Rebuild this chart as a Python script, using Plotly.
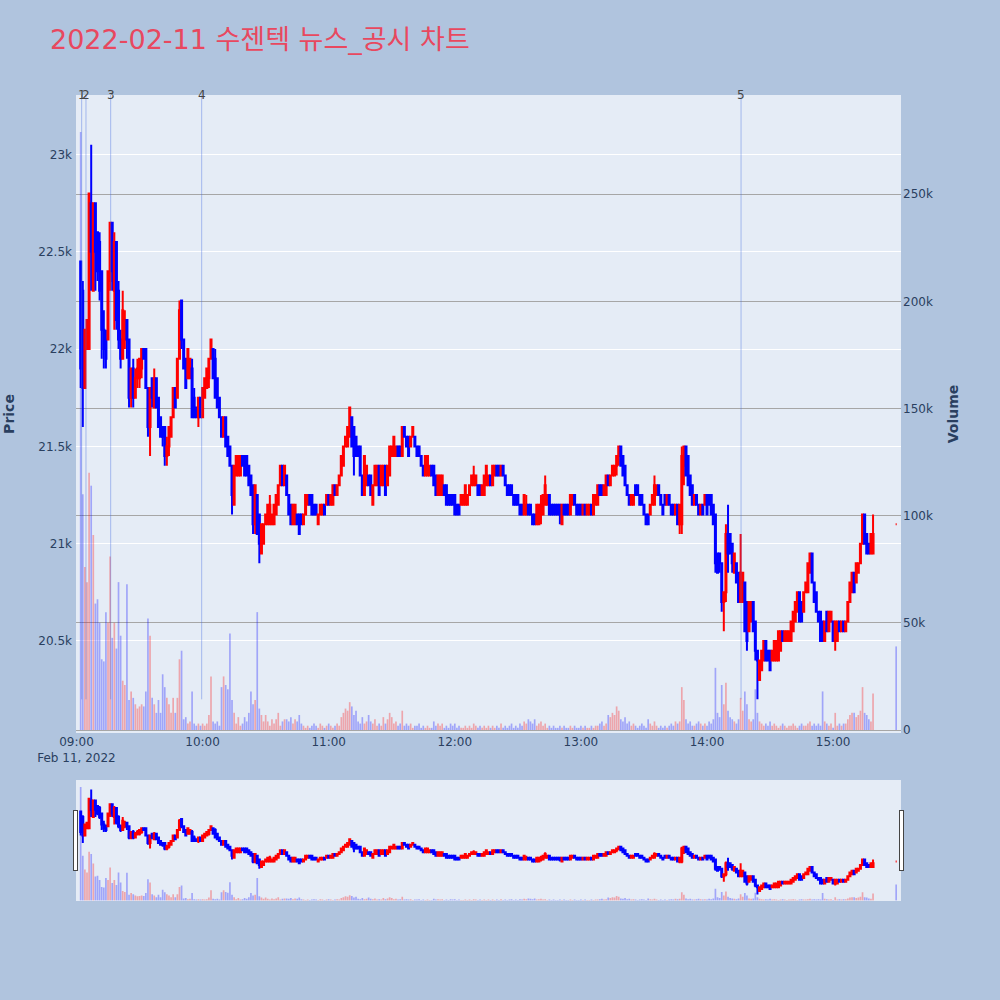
import pandas as pd
import plotly.graph_objects as go

title_text = "2022-02-11 수젠텍 뉴스_공시 차트"
session_start = "2022-02-11 09:02"
session_end = "2022-02-11 15:19"
closing_auction = "2022-02-11 15:30"

opens = [
    22450,22300,21800,22000,22000,22750,22300,22750,22600,22550,
    22400,22100,22050,22050,22350,22650,22300,22550,22300,22050,
    21950,22050,22150,22050,21750,21900,21750,21850,21850,21900,
    22000,22000,21800,21600,21850,21700,21850,21750,21650,21600,
    21600,21450,21500,21550,21650,21800,21750,21950,
    22250,22050,21950,21850,21850,21900,21750,21700,21650,21750,
    21650,21750,21800,21850,21950,22000,21950,21850,21750,21650,
    21550,21650,21550,21500,21400,21200,21350,21350,21350,21450,
    21450,21450,21400,21350,21300,21100,21250,21150,20950,21000,
    21100,21100,21100,21100,21100,21150,21200,21300,21400,21300,
    21350,21250,21200,21100,21100,21150,21150,21150,21100,21150,
    21200,21250,21250,21200,21200,21100,21150,21150,21200,21200,
    21250,21200,21200,21300,21250,21300,21350,21400,21500,21500,
    21550,21650,21600,21550,21500,21500,21350,21250,21300,21350,
    21350,21200,21300,21300,21400,21300,21300,21400,
    21300,21350,21450,21450,21450,21500,21500,21450,21600,21550,
    21550,21500,21550,21550,21500,21500,21450,21400,21350,21350,
    21350,21400,21400,21350,21250,21250,21250,21300,21300,21250,
    21250,21250,21250,21200,21200,21200,21200,21200,21200,21250,
    21300,21300,21300,21300,21300,21250,21250,21300,21300,21350,
    21300,21350,21400,21400,21350,21400,21350,21300,21300,21300,
    21250,21250,21250,21200,21200,21150,21150,21200,21200,21150,
    21150,21100,21100,21150,21150,21200,21200,21250,21200,21200,
    21200,21200,21200,21100,21200,21200,21200,21150,21200,21250,
    21200,21200,21200,21150,21200,21150,21150,21200,21150,21200,
    21200,21300,21300,21250,21250,21350,21300,21350,21350,21400,
    21450,21500,21450,21400,21300,21250,21200,21200,21300,21300,
    21250,21250,21200,21150,21150,21150,21200,21200,21250,21300,
    21250,21200,21250,21200,21250,21200,21200,21150,21200,21100,
    21100,21400,21500,21450,21350,21300,21200,21250,21200,
    21150,21200,21200,21250,21250,21250,21200,21150,20950,20950,
    20900,20700,20750,21050,21050,21000,20850,20900,20850,20700,
    20700,20800,20700,20550,20600,20700,20600,20450,20300,20350,
    20400,20500,20450,20450,20400,20400,20400,20400,20450,20550,
    20500,20500,20500,20500,20550,20600,20650,20750,20700,20650,
    20750,20750,20850,20950,20800,20750,20650,20650,20600,20500,
    20650,20550,20600,20600,20500,20500,20600,20550,20600,20550,
    20600,20700,20750,20850,20800,20850,20900,21000,21150,21050,
    21000,20950,20950,
    21100,
]

highs = [
    22450,22350,22100,22150,22800,23050,22750,22750,22600,22600,
    22400,22200,22100,22400,22650,22650,22600,22550,22350,22100,
    22300,22200,22150,22050,21900,21950,21900,21950,21950,22000,
    22000,22000,21800,21800,21850,21900,21850,21750,21650,21600,
    21600,21550,21600,21650,21800,21800,21950,22250,
    22250,22050,21950,22000,21950,21950,21800,21700,21750,21750,
    21800,21850,21900,21950,22050,22000,22000,21850,21750,21650,
    21650,21650,21550,21500,21400,21400,21450,21450,21450,21450,
    21450,21450,21400,21350,21300,21300,21250,21150,21100,21100,
    21150,21200,21250,21150,21200,21250,21300,21400,21400,21400,
    21350,21250,21200,21200,21200,21150,21150,21150,21150,21250,
    21250,21250,21250,21200,21200,21150,21200,21200,21200,21250,
    21250,21250,21300,21300,21300,21350,21450,21500,21550,21600,
    21700,21650,21600,21550,21500,21500,21350,21450,21400,21350,
    21350,21300,21400,21400,21400,21400,21400,21400,
    21400,21500,21500,21550,21500,21500,21500,21600,21600,21550,
    21550,21550,21600,21550,21500,21500,21450,21400,21450,21450,
    21400,21400,21400,21350,21350,21350,21350,21300,21300,21250,
    21250,21250,21250,21200,21200,21250,21250,21300,21250,21300,
    21350,21400,21350,21300,21300,21300,21350,21400,21350,21350,
    21400,21400,21400,21400,21400,21400,21350,21300,21300,21300,
    21250,21250,21250,21200,21200,21250,21250,21200,21200,21150,
    21150,21200,21200,21250,21250,21350,21250,21250,21200,21200,
    21200,21200,21200,21200,21200,21200,21200,21250,21250,21250,
    21200,21200,21200,21200,21200,21200,21200,21200,21250,21250,
    21300,21300,21300,21300,21350,21350,21350,21400,21400,21450,
    21500,21500,21450,21400,21300,21250,21250,21250,21300,21300,
    21250,21250,21200,21150,21150,21200,21250,21350,21300,21300,
    21250,21200,21250,21250,21250,21200,21200,21200,21200,21200,
    21500,21500,21500,21450,21350,21300,21250,21250,21200,
    21200,21200,21250,21250,21250,21250,21200,21150,20950,20950,
    20900,20750,21100,21200,21050,21000,20950,20900,20850,21050,
    20850,20800,20700,20700,20700,20700,20600,20450,20400,20450,
    20500,20500,20450,20450,20450,20500,20500,20550,20550,20550,
    20550,20550,20550,20600,20650,20700,20750,20750,20700,20750,
    20800,20900,20950,20950,20800,20750,20650,20650,20600,20600,
    20650,20650,20650,20600,20600,20600,20600,20600,20600,20600,
    20700,20800,20850,20850,20900,20900,21000,21150,21150,21050,
    21000,21050,21150,
    21100,
]

lows = [
    21800,21600,21800,22000,22000,22300,22300,22300,22350,22250,
    21950,21900,21900,22050,22300,22300,22100,22100,22000,21900,
    21950,22000,21950,21700,21700,21700,21750,21800,21800,21850,
    21950,21800,21550,21450,21700,21700,21700,21600,21550,21500,
    21400,21400,21450,21550,21650,21700,21750,21950,
    22000,21900,21800,21850,21850,21650,21650,21650,21600,21650,
    21650,21750,21800,21800,21950,21850,21750,21700,21650,21550,
    21550,21500,21450,21400,21150,21200,21350,21350,21350,21400,
    21350,21350,21300,21250,21050,21050,21050,20900,20950,21000,
    21100,21100,21100,21100,21100,21150,21200,21300,21300,21300,
    21250,21150,21100,21100,21100,21100,21050,21100,21100,21150,
    21200,21200,21150,21150,21150,21100,21150,21150,21150,21200,
    21200,21200,21200,21250,21250,21300,21350,21400,21500,21500,
    21550,21500,21350,21450,21450,21350,21250,21250,21300,21300,
    21250,21200,21300,21300,21250,21300,21300,21250,
    21300,21350,21450,21450,21450,21450,21450,21450,21550,21500,
    21450,21500,21550,21500,21450,21450,21400,21350,21350,21350,
    21350,21350,21300,21250,21250,21250,21250,21250,21200,21200,
    21200,21200,21150,21150,21150,21200,21200,21200,21200,21250,
    21300,21300,21300,21250,21250,21250,21250,21300,21300,21300,
    21300,21350,21350,21350,21350,21350,21300,21250,21250,21250,
    21200,21200,21200,21150,21150,21150,21150,21150,21150,21100,
    21100,21100,21100,21100,21150,21200,21200,21150,21150,21150,
    21150,21150,21100,21100,21150,21150,21150,21150,21200,21200,
    21150,21150,21150,21150,21150,21150,21150,21150,21150,21200,
    21200,21250,21250,21250,21250,21300,21300,21350,21350,21350,
    21400,21400,21350,21300,21250,21200,21200,21200,21250,21250,
    21200,21200,21150,21100,21100,21150,21200,21200,21250,21250,
    21200,21150,21200,21200,21200,21150,21150,21150,21100,21050,
    21050,21300,21350,21300,21250,21200,21200,21200,21150,
    21150,21150,21200,21150,21200,21150,21100,20850,20850,20850,
    20650,20550,20700,20850,20950,20850,20850,20800,20700,20700,
    20700,20550,20450,20550,20600,20550,20400,20200,20300,20350,
    20400,20400,20400,20350,20400,20400,20400,20400,20450,20500,
    20500,20500,20500,20500,20550,20600,20650,20600,20600,20650,
    20750,20750,20850,20800,20700,20650,20600,20500,20500,20500,
    20550,20550,20600,20500,20450,20500,20550,20550,20550,20550,
    20600,20700,20750,20750,20800,20850,20900,21000,21000,20950,
    20950,20950,20950,
    21100,
]

closes = [
    21900,21800,22100,22150,22800,22500,22750,22500,22400,22300,
    22100,22000,21950,22400,22650,22400,22550,22150,22050,21950,
    22200,22150,22050,21750,21900,21750,21850,21900,21950,22000,
    21950,21800,21600,21800,21750,21850,21700,21600,21550,21550,
    21450,21500,21600,21650,21800,21700,21950,22200,
    22050,21900,21800,22000,21950,21650,21650,21650,21750,21650,
    21800,21850,21900,21950,22050,21850,21750,21700,21650,21550,
    21650,21500,21450,21400,21250,21400,21450,21450,21450,21400,
    21350,21350,21300,21250,21100,21300,21050,21000,21100,21100,
    21150,21200,21200,21150,21200,21250,21300,21400,21300,21400,
    21250,21150,21100,21200,21200,21100,21050,21100,21150,21250,
    21250,21200,21150,21150,21150,21150,21200,21200,21150,21250,
    21200,21250,21300,21250,21300,21350,21450,21500,21550,21600,
    21700,21500,21450,21450,21450,21350,21250,21450,21400,21300,
    21250,21300,21400,21400,21250,21400,21400,21250,
    21400,21500,21500,21550,21500,21450,21450,21600,21550,21500,
    21450,21550,21600,21500,21450,21450,21400,21350,21450,21450,
    21400,21350,21300,21250,21350,21350,21350,21250,21200,21200,
    21200,21200,21150,21150,21150,21250,21250,21300,21250,21300,
    21350,21350,21350,21250,21250,21300,21350,21400,21350,21300,
    21400,21400,21350,21350,21400,21350,21300,21250,21250,21250,
    21200,21200,21200,21150,21150,21250,21200,21150,21150,21100,
    21100,21200,21200,21200,21250,21300,21250,21150,21150,21150,
    21150,21150,21150,21200,21150,21150,21150,21250,21250,21200,
    21150,21150,21150,21200,21150,21200,21200,21150,21250,21250,
    21300,21250,21250,21300,21350,21300,21350,21400,21400,21450,
    21500,21400,21350,21300,21250,21200,21250,21250,21250,21250,
    21200,21200,21150,21100,21100,21200,21250,21300,21300,21250,
    21200,21150,21200,21250,21200,21150,21150,21200,21100,21200,
    21450,21500,21350,21300,21250,21200,21250,21200,21150,
    21200,21150,21250,21150,21200,21150,21100,20900,20850,20900,
    20700,20750,21050,20950,20950,20900,20950,20800,20700,20850,
    20850,20550,20500,20700,20700,20550,20450,20400,20400,20450,
    20500,20400,20400,20350,20450,20500,20500,20550,20550,20500,
    20550,20550,20550,20600,20650,20700,20750,20600,20600,20750,
    20800,20900,20950,20800,20700,20650,20600,20500,20500,20600,
    20550,20650,20650,20500,20600,20600,20550,20600,20550,20600,
    20700,20800,20850,20750,20900,20900,21000,21150,21000,20950,
    20950,21050,21050,
    21100,
]

volumes = [
    279000,110000,76000,69000,120000,114000,91000,59000,61000,50000,
    33000,32000,55000,50000,81000,43000,50000,38000,69000,44000,
    23000,21000,68000,14000,18000,15000,12000,10000,11000,12000,
    11000,18000,52000,44000,15000,12000,8000,14000,8000,26000,
    20000,15000,12000,8000,15000,8000,15000,33000,
    37000,5000,6000,3000,4000,18000,3000,2000,3000,2000,
    3000,2000,3000,7000,25000,4000,3000,4000,2000,20000,
    25000,21000,19000,45000,14000,8000,3000,6000,2000,3000,
    6000,4000,8000,18000,12000,14000,55000,10000,7000,4000,
    7000,4000,2000,5000,3000,5000,8000,2000,4000,5000,
    5000,4000,6000,3000,5000,4000,7000,3000,2000,1000,
    2000,1000,2000,3000,2000,1000,3000,2000,1000,2000,
    3000,2000,1000,2000,3000,2000,6000,8000,10000,9000,
    13000,11000,7000,9000,4000,3000,6000,3000,4000,7000,
    4000,3000,5000,2000,3000,2000,6000,3000,
    5000,8000,6000,3000,4000,2000,3000,9000,2000,3000,
    2000,3000,1000,2000,2000,3000,1000,2000,1000,2000,
    1000,1000,4000,2000,3000,2000,3000,1000,2000,1000,
    3000,2000,3000,1000,2000,1000,1000,2000,1000,2000,
    1000,3000,2000,1000,2000,1000,2000,1000,2000,1000,
    2000,1000,2000,1000,3000,1000,2000,1000,2000,3000,
    1000,2000,1000,3000,2000,4000,3000,5000,4000,3000,
    5000,2000,3000,4000,2000,3000,1000,2000,1000,2000,
    1000,1000,2000,1000,2000,1000,1000,2000,1000,2000,
    1000,1000,2000,1000,2000,1000,1000,2000,1000,2000,
    2000,3000,4000,2000,3000,7000,6000,8000,7000,11000,
    9000,5000,4000,6000,3000,4000,2000,3000,2000,1000,
    2000,3000,2000,1000,5000,3000,2000,4000,2000,1000,
    2000,1000,2000,1000,2000,3000,2000,4000,3000,4000,
    20000,14000,5000,3000,4000,2000,2000,3000,4000,
    3000,2000,3000,2000,4000,3000,5000,29000,8000,6000,
    21000,12000,22000,9000,6000,5000,4000,3000,5000,15000,
    9000,18000,12000,5000,4000,5000,19000,8000,4000,3000,
    2000,3000,2000,4000,2000,3000,2000,1000,2000,3000,
    2000,1000,2000,2000,3000,2000,1000,2000,3000,2000,
    2000,3000,4000,2000,3000,2000,3000,2000,18000,4000,
    3000,2000,3000,1000,8000,2000,3000,2000,3000,3000,
    5000,7000,8000,8000,6000,7000,9000,20000,8000,7000,
    5000,4000,17000,
    39000,
]

news_times = ["2022-02-11 09:02:28", "2022-02-11 09:04:31", "2022-02-11 09:16:16",
              "2022-02-11 09:59:34", "2022-02-11 14:16:12"]
news_labels = ["1", "2", "3", "4", "5"]

times = list(pd.date_range(session_start, session_end, freq="min")) + [pd.Timestamp(closing_auction)]
n = len(times)
assert len(opens) == n and len(highs) == n and len(lows) == n and len(closes) == n and len(volumes) == n, (
    n, len(opens), len(highs), len(lows), len(closes), len(volumes))

x_range = ["2022-02-11 08:59:46", "2022-02-11 15:32:18"]
price_range = [20027, 23306]
volume_range = [-1400, 296300]

UP = "#ff0000"
DOWN = "#0000ff"
vol_colors = ["rgba(255,0,0,0.3)" if c > o else "rgba(0,0,255,0.3)" for o, c in zip(opens, closes)]

fig = go.Figure()
fig.add_trace(go.Bar(x=times, y=volumes, marker=dict(color=vol_colors, line=dict(width=0)),
                     yaxis="y", name="Volume", hoverinfo="skip"))
fig.add_trace(go.Candlestick(x=times, open=opens, high=highs, low=lows, close=closes,
                             yaxis="y2", name="Price",
                             increasing=dict(line=dict(color=UP, width=2), fillcolor=UP),
                             decreasing=dict(line=dict(color=DOWN, width=2), fillcolor=DOWN)))

low_min = min(lows)
for t, lab in zip(news_times, news_labels):
    fig.add_shape(type="line", xref="x", yref="y2", x0=t, x1=t, y0=low_min, y1=price_range[1],
                  line=dict(color="rgba(65,105,225,0.4)", width=1))
    fig.add_annotation(x=t, xref="x", y=1, yref="paper", yanchor="middle", text=lab,
                       showarrow=False, font=dict(size=12, color="#444"))

fig.update_layout(
    width=1000, height=1000,
    template="plotly",
    font=dict(family="DejaVu Sans"),
    paper_bgcolor="#b0c4de",
    plot_bgcolor="#e5ecf6",
    showlegend=False,
    hovermode=False,
    margin=dict(l=76, r=99, t=95, b=100),
    title=dict(text=title_text, x=0.05, xanchor="left", y=0.96, yanchor="middle",
               font=dict(size=27, color="#e8485f", family="DejaVu Sans, Noto Sans CJK KR")),
    xaxis=dict(range=x_range, showgrid=False, automargin=False,
               rangeslider=dict(visible=True, thickness=0.15, bgcolor="#e5ecf6", range=x_range)),
    yaxis=dict(title=dict(text="<b>Volume</b>", font=dict(size=14), standoff=16), side="right",
               automargin=False, range=volume_range, showgrid=True, gridcolor="#a6a6a6",
               zeroline=False, ticklabelstandoff=1),
    yaxis2=dict(title=dict(text="<b>Price</b>", font=dict(size=14), standoff=20), side="left",
                automargin=False, overlaying="y", range=price_range, showgrid=True,
                gridcolor="white", ticklabelstandoff=3),
)

fig.write_html("out.html", config={"displayModeBar": False},
               post_script="document.body.style.margin='0';")
